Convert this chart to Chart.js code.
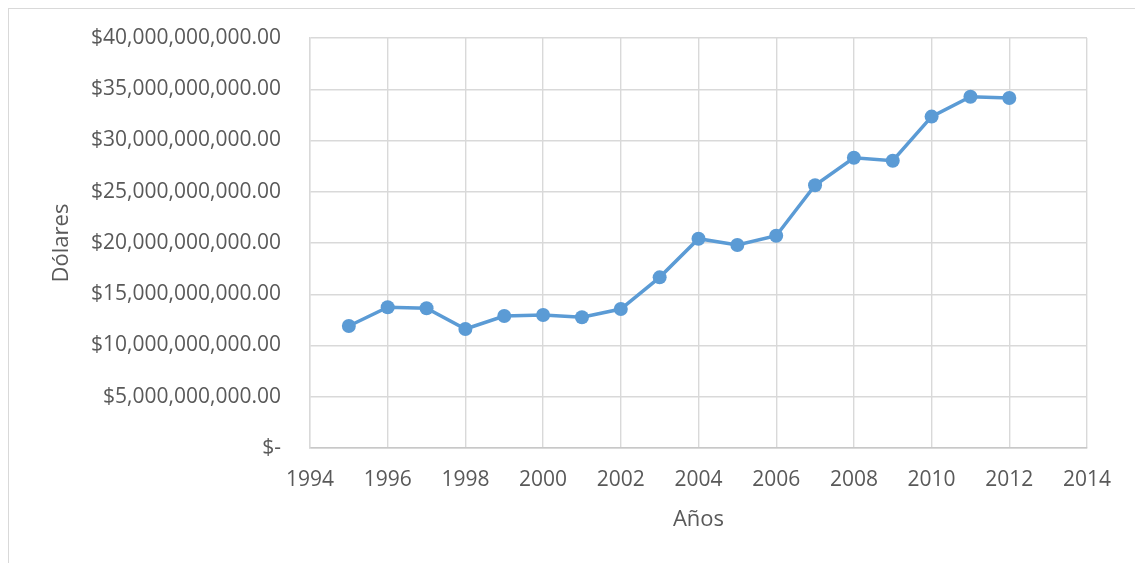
<!DOCTYPE html>
<html><head><meta charset="utf-8">
<script src="https://cdn.jsdelivr.net/npm/chart.js@4"></script>
<style>
html,body{margin:0;padding:0;background:#fff;overflow:hidden;width:1135px;height:563px}
#frame{position:absolute;left:8px;top:8px;width:1300px;height:700px;border:1px solid #d9d9d9;box-sizing:border-box}
#wrap{position:absolute;left:0;top:0;width:1135px;height:563px}
</style></head><body>
<div id="frame"></div>
<div id="wrap"><canvas id="c" width="1135" height="563"></canvas></div>
<script>
const years = [1995,1996,1997,1998,1999,2000,2001,2002,2003,2004,2005,2006,2007,2008,2009,2010,2011,2012];
const dolares = [11.9e9,13.73e9,13.63e9,11.61e9,12.88e9,12.98e9,12.76e9,13.56e9,16.65e9,20.42e9,19.8e9,20.71e9,25.63e9,28.32e9,28.03e9,32.33e9,34.27e9,34.15e9];
const xTicks = [1994,1996,1998,2000,2002,2004,2006,2008,2010,2012,2014];
const yTicks = [0,5e9,10e9,15e9,20e9,25e9,30e9,35e9,40e9];
const xTitle = 'Años';
const yTitle = 'Dólares';

function fmtMoney(v){
  if (v === 0) return '$-';
  const s = Math.round(v).toString().replace(/\B(?=(\d{3})+(?!\d))/g, ',');
  return '$' + s + '.00';
}

const FONT = 'Open Sans';
const TXT = '#595959';
const GRID = '#d9d9d9';

new Chart(document.getElementById('c'), {
  type: 'line',
  data: {
    datasets: [{
      data: years.map((y, i) => ({x: y, y: dolares[i]})),
      borderColor: '#5b9bd5',
      backgroundColor: '#5b9bd5',
      borderWidth: 3.5,
      pointRadius: 7,
      pointBackgroundColor: '#5b9bd5',
      pointBorderColor: '#5b9bd5',
      pointBorderWidth: 0,
      tension: 0
    }]
  },
  options: {
    responsive: false,
    animation: false,
    layout: {padding: {top: 38, right: 48, left: 0, bottom: 0}},
    plugins: {legend: {display: false}, tooltip: {enabled: false}, title: {display: false}},
    scales: {
      x: {
        type: 'linear',
        min: 1994, max: 2014,
        afterBuildTicks: s => { s.ticks = xTicks.map(v => ({value: v})); },
        afterFit: s => { s.height = 115; s.paddingLeft = 0; s.paddingRight = 0; },
        ticks: {color: TXT, font: {family: FONT, size: 21}, padding: 19, callback: v => String(v), maxRotation: 0, autoSkip: false},
        grid: {color: GRID, lineWidth: 1.4, drawTicks: false},
        border: {display: true, color: '#c8c8c8', width: 1.4},
        title: {display: true, text: xTitle, color: TXT, font: {family: FONT, size: 22}, padding: {bottom: 30, top: 0}}
      },
      y: {
        min: 0, max: 40e9,
        afterBuildTicks: s => { s.ticks = yTicks.map(v => ({value: v})); },
        afterFit: s => { s.width = 310; s.paddingTop = 0; s.paddingBottom = 0; },
        ticks: {color: TXT, font: {family: FONT, size: 21}, padding: 29, callback: v => fmtMoney(v)},
        grid: {color: GRID, lineWidth: 1.4, drawTicks: false},
        border: {display: true, color: GRID, width: 1.4},
        title: {display: true, text: yTitle, color: TXT, font: {family: FONT, size: 22}, padding: {top: 49, bottom: 0}}
      }
    }
  }
});
</script>
</body></html>
